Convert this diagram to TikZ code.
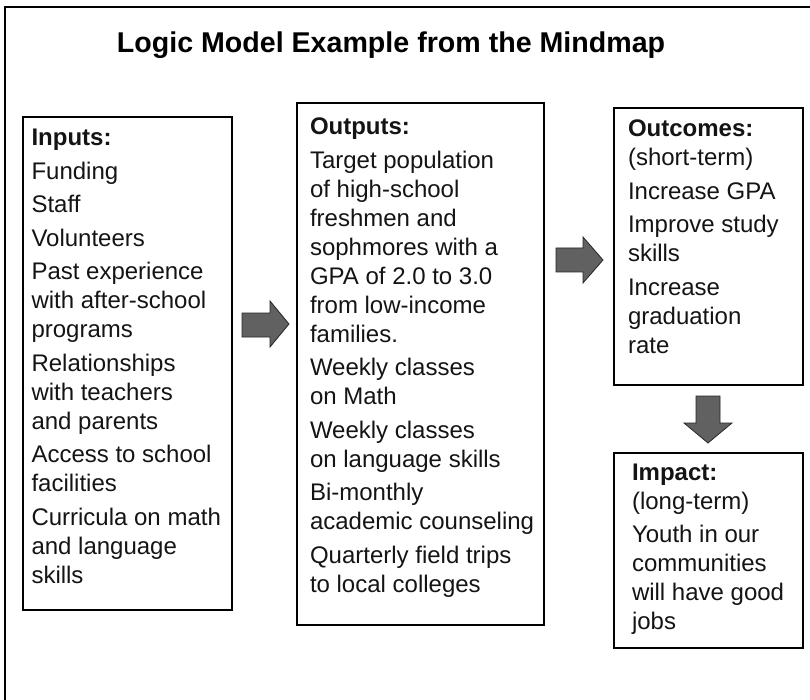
\documentclass[tikz,border=0pt]{standalone}
\usepackage{fontspec}
\setmainfont{Liberation Sans}
\newcommand{\txtblock}[1]{\vtop{\hsize=300pt\parindent=0pt\parskip=4.5pt\raggedright\fontsize{24}{29}\selectfont #1\par}}
\tikzset{
  box/.style={draw=black, line width=1.6pt, inner sep=0pt, outer sep=0pt},
  txt/.style={anchor=base west, inner sep=0pt, outer sep=0pt, text=black!92},
  blockarrow/.style={fill=black!62, draw=black!85, line width=0.8pt, line join=miter}
}
\begin{document}
\begin{tikzpicture}[x=1pt,y=-1pt]
\useasboundingbox (0,0) rectangle (810,700);
% outer frame (only top and left edges visible)
\draw[line width=2pt] (5,720) -- (5,7) -- (830,7);
% title
\node[anchor=base, inner sep=0pt, font=\bfseries\fontsize{28.6}{34}\selectfont] (title) at (391,53) {Logic Model Example from the Mindmap};
% boxes
\node[box, minimum width=209pt, minimum height=493pt] (inputs) at (127.5,363.5) {};
\node[box, minimum width=247pt, minimum height=522pt] (outputs) at (420.5,364) {};
\node[box, minimum width=189pt, minimum height=277pt] (outcomes) at (708.5,246.5) {};
\node[box, minimum width=189pt, minimum height=195pt] (impact) at (708.5,550.5) {};
% texts
\node[txt] (intext) at (31.5,146) {\txtblock{\textbf{Inputs:}\par
Funding\par
Staff\par
Volunteers\par
Past experience\\with after-school\\programs\par
Relationships\\with teachers\\and parents\par
Access to school\\facilities\par
Curricula on math\\and language\\skills}};
\node[txt] (outtext) at (310,135) {\txtblock{\textbf{Outputs:}\par
Target population\\of high-school\\freshmen and\\sophmores with a\\GPA of 2.0 to 3.0\\from low-income\\families.\par
Weekly classes\\on Math\par
Weekly classes\\on language skills\par
Bi-monthly\\academic counseling\par
Quarterly field trips\\to local colleges}};
\node[txt] (outctext) at (628,137) {\txtblock{\textbf{Outcomes:}\\(short-term)\par
Increase GPA\par
Improve study\\skills\par
Increase\\graduation\\rate}};
\node[txt] (imptext) at (632,480) {\txtblock{\textbf{Impact:}\\(long-term)\par
Youth in our\\communities\\will have good\\jobs}};
% block arrows
\filldraw[blockarrow] (242,313) -- (270,313) -- (270,301) -- (289,324) -- (270,347) -- (270,337) -- (242,337) -- cycle;
\filldraw[blockarrow] (556,248) -- (583,248) -- (583,237) -- (603,260) -- (583,283) -- (583,272) -- (556,272) -- cycle;
\filldraw[blockarrow] (696,396) -- (696,423) -- (684,423) -- (708,443) -- (732,423) -- (720,423) -- (720,396) -- cycle;
\end{tikzpicture}
\end{document}
